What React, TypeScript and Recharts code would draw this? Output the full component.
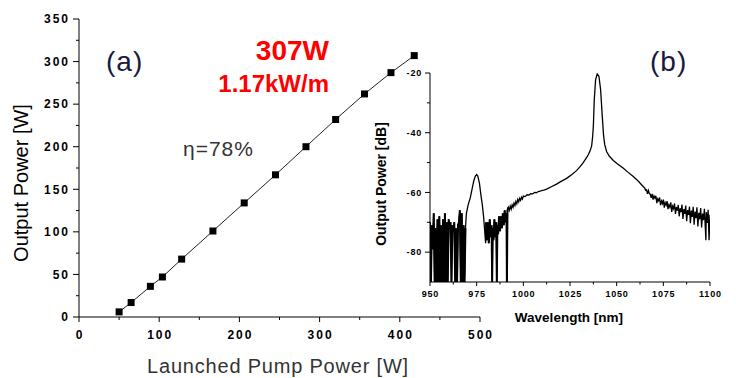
import React from "react";
import { LineChart, Line, XAxis, YAxis } from "recharts";

// (a) slope efficiency
const pumpPower = [50, 65, 89, 104, 128, 167, 206, 245, 283, 320, 356, 389, 418];
const outputPower = [6, 17, 36, 47, 68, 101, 134, 167, 200, 232, 262, 287, 307];

const pumpTicks = [0, 100, 200, 300, 400, 500];
const pumpMinorTicks = [50, 150, 250, 350, 450];
const powerTicks = [0, 50, 100, 150, 200, 250, 300, 350];
const powerMinorTicks = [25, 75, 125, 175, 225, 275, 325];

// (b) output spectrum, [wavelength nm, power dB]
const noiseBelow970: [number, number][] = [
  [950.0, -70], [950.5, -90], [951.0, -71], [951.5, -79], [952.0, -67], [952.5, -90],
  [953.0, -72], [953.5, -90], [954.0, -69], [954.5, -90], [955.0, -68], [955.5, -90],
  [956.0, -71], [956.5, -90], [957.0, -69], [957.5, -90], [958.0, -67], [958.5, -90],
  [959.0, -70], [959.5, -90], [960.0, -69], [960.5, -72], [961.0, -70], [961.5, -90],
  [962.0, -71], [962.5, -73], [963.0, -70], [963.5, -90], [964.0, -72], [964.5, -90],
  [965.0, -71], [965.5, -70], [966.0, -66], [966.5, -90], [967.0, -67], [967.5, -90],
  [968.0, -71], [968.5, -90], [969.0, -72],
];
const pumpPeak975: [number, number][] = [
  [969.5, -67], [970.5, -64], [971.5, -62], [972.5, -59], [973.5, -56], [974.3, -54.5],
  [975.0, -54], [975.6, -54.5], [976.5, -57], [977.3, -61], [978.0, -64], [978.7, -68],
  [979.3, -73], [979.8, -77],
];
const noiseNear985: [number, number][] = [
  [980.0, -70], [980.5, -76], [981.0, -70], [981.5, -77], [982.0, -69], [982.5, -75],
  [983.0, -71], [983.3, -90], [983.6, -72], [984.0, -76], [984.5, -69], [985.0, -75],
  [985.5, -70], [985.8, -90], [986.1, -71], [986.5, -74], [987.0, -68], [987.5, -73],
  [988.0, -68], [988.5, -72], [989.0, -67], [989.5, -71], [990.0, -66], [990.5, -70],
  [991.0, -67], [991.2, -90], [991.5, -66], [992.0, -65],
];
const signalLobe: [number, number][] = [
  [992.5, -66], [993, -64.6], [993.5, -65.6], [994, -64.2], [994.5, -65], [995, -63.6],
  [995.5, -64.4], [996, -63], [996.5, -63.8], [997, -62.4], [997.5, -63.2], [998, -62],
  [998.5, -62.6], [999, -61.6], [999.5, -62.2], [1000, -61.2], [1001, -61.4], [1002, -60.8],
  [1003, -60.9], [1004, -60.4], [1005, -60.5], [1006, -60], [1007, -60.1], [1008, -59.7],
  [1009, -59.6], [1010, -59.3], [1011, -59.2], [1012.5, -58.9], [1015, -58.1],
  [1017.8, -57.2], [1020, -56.4], [1023.2, -55.3], [1026, -54], [1028.5, -52.7],
  [1030.5, -51.3], [1032.1, -50], [1033.5, -48.7], [1034.8, -47.4], [1035.8, -46],
  [1036.6, -44.4], [1037.1, -41.5], [1037.5, -37.9], [1038, -29], [1038.7, -22.3],
  [1039.6, -20.3], [1040.5, -21.1], [1041.4, -25.6], [1042.3, -34.6], [1043, -41],
  [1043.6, -44], [1044.6, -46.3], [1046, -47.8], [1048.2, -49.3], [1050.5, -50.5],
  [1053.6, -51.9], [1056, -53.2], [1058.9, -54.7], [1061.5, -56.2], [1064.3, -58.1],
];
const tailNoise: [number, number][] = [
  [1065, -58.5], [1065.5, -59.3], [1066, -59.1], [1066.5, -60.5], [1067, -59.4], [1067.5, -60.4],
  [1068, -60.6], [1068.5, -61.8], [1069, -60.5], [1069.5, -62.4], [1070, -61.2], [1070.5, -61.9],
  [1071, -61.1], [1071.5, -63.6], [1072, -62.2], [1072.5, -62.8], [1073, -61.7], [1073.5, -64.3],
  [1074, -62.9], [1074.5, -63.7], [1075, -62.4], [1075.5, -65.1], [1076, -63.4], [1076.5, -64.2],
  [1077, -62.9], [1077.5, -65.6], [1078, -64.1], [1078.5, -64.9], [1079, -63.3], [1079.5, -66.5],
  [1080, -64.6], [1080.5, -65.4], [1081, -63.7], [1081.5, -67.2], [1082, -64.9], [1082.5, -66.1],
  [1083, -64.2], [1083.5, -68], [1084, -65.3], [1084.5, -66.6], [1085, -64.1], [1085.5, -68.9],
  [1086, -65.6], [1086.5, -67.2], [1087, -64.4], [1087.5, -69.6], [1088, -65.9], [1088.5, -67.5],
  [1089, -64.7], [1089.5, -70.3], [1090, -66.1], [1090.5, -68.2], [1091, -64.8], [1091.5, -70.8],
  [1092, -66.4], [1092.5, -68.6], [1093, -65], [1093.5, -71.4], [1094, -66.8], [1094.5, -69],
  [1095, -65.2], [1095.5, -71.7], [1096, -67.1], [1096.5, -69.3], [1097, -65.5], [1097.5, -72],
  [1097.8, -76], [1098, -66.6], [1098.5, -70.2], [1099, -65.8], [1099.5, -76], [1100, -67.5],
];

const nmTicks = [950, 975, 1000, 1025, 1050, 1075, 1100];
const nmMinorTicks = [962.5, 987.5, 1012.5, 1037.5, 1062.5, 1087.5];
const dbTicks = [-20, -40, -60, -80];
const dbMinorTicks = [-30, -50, -70];

const FONT = "'Liberation Sans', Arial, sans-serif";

const efficiencyData = pumpPower.map((p, i) => ({ pump: p, output: outputPower[i] }));

// noisy floor segments get a second, heavier stroke so they read as solid black like the scan
const segments: [[number, number][], boolean][] = [
  [noiseBelow970, true],
  [pumpPeak975, false],
  [noiseNear985, true],
  [signalLobe, false],
  [tailNoise, false],
];
const spectrumData = segments.flatMap(([pts, noisy]) =>
  pts.map(([nm, db]) => ({ nm, db, floor: noisy ? db : null }))
);

// ticks: tickSize/tickMargin are 0 so x,y sit on the axis line
function leftTick(majors: number[], len: number, minorLen: number, gap: number, fontSize: number, spacing: number) {
  return (props: any) => {
    const { x, y, payload } = props;
    const major = majors.includes(payload.value);
    return (
      <g>
        <line x1={x - (major ? len : minorLen)} x2={x} y1={y} y2={y} stroke="#000" />
        {major && (
          <text x={x - gap} y={y} dy="0.36em" textAnchor="end" fontFamily={FONT} fontWeight="bold"
            fontSize={fontSize} letterSpacing={spacing} fill="#000">
            {payload.value}
          </text>
        )}
      </g>
    );
  };
}

function bottomTick(majors: number[], len: number, minorLen: number, gap: number, fontSize: number, spacing: number) {
  return (props: any) => {
    const { x, y, payload } = props;
    const major = majors.includes(payload.value);
    return (
      <g>
        <line x1={x} x2={x} y1={y} y2={y + (major ? len : minorLen)} stroke="#000" />
        {major && (
          <text x={x + spacing / 2} y={y + gap} textAnchor="middle" fontFamily={FONT} fontWeight="bold"
            fontSize={fontSize} letterSpacing={spacing} fill="#000">
            {payload.value}
          </text>
        )}
      </g>
    );
  };
}

const SquareDot = (props: any) => {
  const { cx, cy, index } = props;
  return <rect key={index} x={cx - 3.5} y={cy - 3.5} width={7} height={7} fill="#000" />;
};

const layer: React.CSSProperties = { position: "absolute", left: 0, top: 0 };

export default function App() {
  return (
    <div style={{ position: "absolute", left: 0, top: 0, width: 736, height: 378, background: "#fff" }}>
      <div style={layer}>
        <LineChart width={736} height={378} data={efficiencyData} margin={{ top: 19, right: 256, bottom: 0, left: 29 }}>
          <XAxis dataKey="pump" type="number" domain={[0, 500]} ticks={[...pumpTicks, ...pumpMinorTicks].sort((a, b) => a - b)}
            interval={0} height={61} tickSize={0} tickMargin={0} stroke="#000"
            tick={bottomTick(pumpTicks, 5, 3, 22, 12, 2)} />
          <YAxis type="number" domain={[0, 350]} ticks={[...powerTicks, ...powerMinorTicks].sort((a, b) => a - b)}
            interval={0} width={50} tickSize={0} tickMargin={0} stroke="#000"
            tick={leftTick(powerTicks, 6, 3, 9, 12, 2)} />
          <Line dataKey="output" type="linear" stroke="#222" strokeWidth={1} dot={SquareDot} isAnimationActive={false} />
        </LineChart>
      </div>
      <div style={layer}>
        <LineChart width={736} height={378} data={spectrumData} margin={{ top: 73, right: 26, bottom: 0, left: 380 }}>
          <XAxis dataKey="nm" type="number" domain={[950, 1100]} allowDataOverflow ticks={[...nmTicks, ...nmMinorTicks].sort((a, b) => a - b)}
            interval={0} height={96} tickSize={0} tickMargin={0} stroke="#000"
            tick={bottomTick(nmTicks, 4, 2.5, 15, 9, 0.8)} />
          <YAxis type="number" domain={[-90, -20]} allowDataOverflow ticks={[...dbTicks, ...dbMinorTicks].sort((a, b) => a - b)}
            interval={0} width={50} tickSize={0} tickMargin={0} stroke="#000"
            tick={leftTick(dbTicks, 5, 3, 8, 9, 0.8)} />
          <Line dataKey="floor" type="linear" stroke="#000" strokeWidth={2} dot={false} connectNulls={false} isAnimationActive={false} />
          <Line dataKey="db" type="linear" stroke="#000" strokeWidth={1.3} dot={false} isAnimationActive={false} />
        </LineChart>
      </div>
      <svg width={736} height={378} style={{ ...layer, pointerEvents: "none" }} fontFamily={FONT}>
        <text transform="translate(28,183) rotate(-90)" textAnchor="middle" fontSize={20} fill="#000">Output Power [W]</text>
        <text x={278} y={373} textAnchor="middle" fontSize={20} fill="#333" letterSpacing={0.8}>Launched Pump Power [W]</text>
        <text x={106} y={71} fontSize={28} fill="#1a1a3c" letterSpacing={1}>(a)</text>
        <text x={650} y={71} fontSize={28} fill="#1a1a3c" letterSpacing={1}>(b)</text>
        <text x={329} y={60} textAnchor="end" fontSize={28} fontWeight="bold" fill="#ff0000">307W</text>
        <text x={329} y={92} textAnchor="end" fontSize={24} fontWeight="bold" fill="#ff0000">1.17kW/m</text>
        <text x={183} y={156} fontSize={21} fill="#333" letterSpacing={1}>η=78%</text>
        <text transform="translate(386,184) rotate(-90)" textAnchor="middle" fontSize={14} fontWeight="bold" fill="#000">Output Power [dB]</text>
        <text x={569} y={322} textAnchor="middle" fontSize={13.5} fontWeight="bold" fill="#000">Wavelength [nm]</text>
      </svg>
    </div>
  );
}
